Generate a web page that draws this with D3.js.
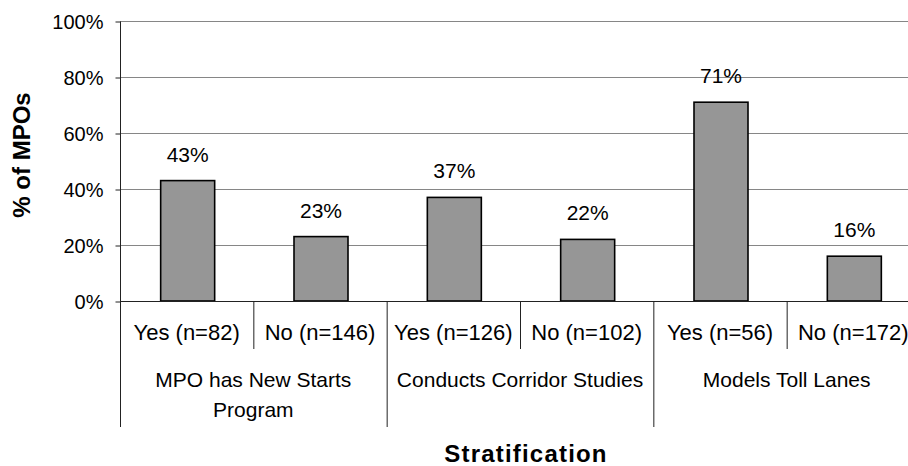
<!DOCTYPE html>
<html>
<head>
<meta charset="utf-8">
<script src="https://cdn.jsdelivr.net/npm/d3@7"></script>
<style>
  html, body { margin: 0; padding: 0; background: #fff; }
  svg { display: block; font-family: Arial, "Liberation Sans", sans-serif; }
</style>
</head>
<body>
<svg id="chart" width="908" height="466"></svg>
<script>
const categories = ["Yes (n=82)", "No (n=146)", "Yes (n=126)", "No (n=102)", "Yes (n=56)", "No (n=172)"];
const groups = [["MPO has New Starts", "Program"], ["Conducts Corridor Studies"], ["Models Toll Lanes"]];
const values = [43, 23, 37, 22, 71, 16];
const yTicks = [0, 20, 40, 60, 80, 100];
const yTitle = "% of MPOs";
const xTitle = "Stratification";

const svg = d3.select("#chart");
const pLeft = 120, pRight = 920, pTop = 21, pBottom = 301;

const x = d3.scaleBand().domain(categories).range([pLeft, pRight]).paddingInner(0).paddingOuter(0);
const y = d3.scaleLinear().domain([0, 100]).range([pBottom, pTop]);
const barW = 54;

// gridlines
svg.append("g").selectAll("line").data(yTicks.filter(t => t > 0)).join("line")
  .attr("x1", pLeft).attr("x2", pRight)
  .attr("y1", d => y(d) + 0.5).attr("y2", d => y(d) + 0.5)
  .attr("stroke", "#868686").attr("stroke-width", 1);

// y axis
const yAxis = d3.axisLeft(y).tickValues(yTicks).tickFormat(d => d + "%").tickSize(5).tickPadding(12);
const gy = svg.append("g").attr("transform", `translate(${pLeft + 0.5},0.5)`).call(yAxis);
gy.select(".domain").attr("stroke", "#222").attr("d", `M0,${pTop}V${pBottom}`);
gy.selectAll(".tick line").attr("stroke", "#222");
gy.selectAll(".tick text").attr("font-size", 20).attr("fill", "#000").attr("dy", "0.35em")
  .attr("font-family", "Arial, 'Liberation Sans', sans-serif");

// bars
svg.append("g").selectAll("rect").data(values).join("rect")
  .attr("x", (d, i) => x(categories[i]) + x.bandwidth() / 2 - barW / 2 + 1)
  .attr("y", d => y(d))
  .attr("width", barW)
  .attr("height", d => y(0) - y(d))
  .attr("fill", "#969696").attr("stroke", "#000").attr("stroke-width", 1.6);

// value labels
svg.append("g").selectAll("text").data(values).join("text")
  .attr("x", (d, i) => x(categories[i]) + x.bandwidth() / 2 + 1)
  .attr("y", d => y(d) - 19)
  .attr("text-anchor", "middle").attr("font-size", 21).attr("fill", "#000")
  .text(d => d + "%");

// x axis baseline
svg.append("line").attr("x1", pLeft).attr("x2", pRight).attr("y1", pBottom + 0.5).attr("y2", pBottom + 0.5)
  .attr("stroke", "#222").attr("stroke-width", 1.2);

// category separators
const sepX = d3.range(categories.length + 1).map(i => i < categories.length ? x(categories[i]) : pRight);
svg.append("g").selectAll("line").data(sepX).join("line")
  .attr("x1", d => d + 0.5).attr("x2", d => d + 0.5)
  .attr("y1", pBottom)
  .attr("y2", (d, i) => i % 2 === 0 ? 427 : 349)
  .attr("stroke", "#222").attr("stroke-width", 1);

// category labels
svg.append("g").selectAll("text").data(categories).join("text")
  .attr("x", d => x(d) + x.bandwidth() / 2)
  .attr("y", 340)
  .attr("text-anchor", "middle").attr("font-size", 22).attr("fill", "#000")
  .text(d => d);

// group labels
groups.forEach((lines, gi) => {
  const cx = x(categories[gi * 2]) + x.bandwidth();
  const t = svg.append("text").attr("x", cx).attr("y", 387)
    .attr("text-anchor", "middle").attr("font-size", 21).attr("fill", "#000");
  lines.forEach((ln, li) => {
    t.append("tspan").attr("x", cx).attr("dy", li === 0 ? 0 : 30).text(ln);
  });
});

// axis titles
svg.append("text")
  .attr("transform", `translate(30,${(pTop + pBottom) / 2 - 6}) rotate(-90)`)
  .attr("text-anchor", "middle").attr("font-size", 24).attr("font-weight", "bold").attr("fill", "#000")
  .text(yTitle);

svg.append("text")
  .attr("x", 526).attr("y", 462)
  .attr("text-anchor", "middle").attr("font-size", 24).attr("font-weight", "bold")
  .attr("letter-spacing", 1.2).attr("fill", "#000")
  .text(xTitle);
</script>
</body>
</html>
